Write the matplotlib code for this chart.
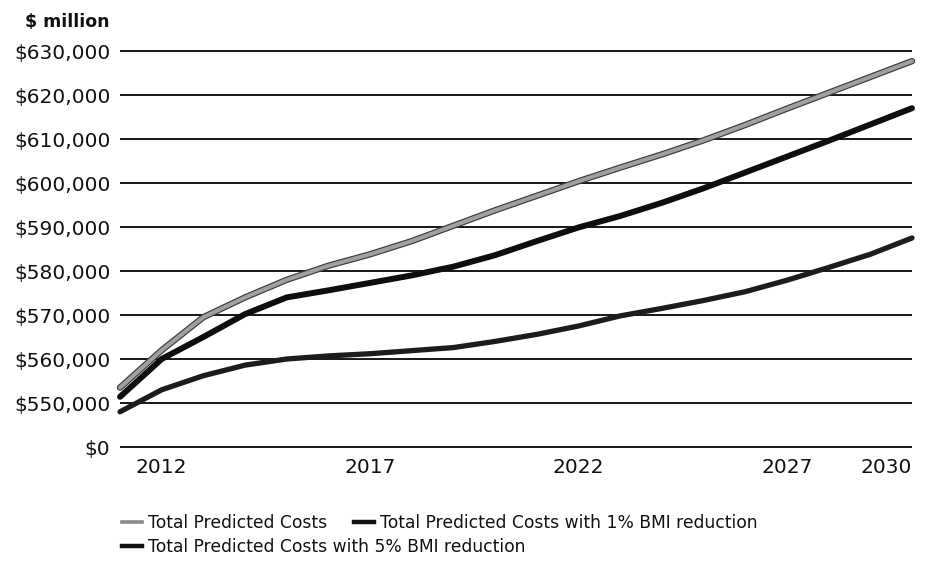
import matplotlib
matplotlib.use("Agg")
import matplotlib.pyplot as plt
from matplotlib.lines import Line2D
import matplotlib.patheffects as pe

# ---------------- data ----------------
years = list(range(2011, 2031))
total_costs = [553500, 562000, 569500, 574000, 578000, 581200, 583800, 586800,
               590300, 593800, 597100, 600400, 603500, 606500, 609700, 613200,
               616900, 620500, 624100, 627700]
bmi1_costs = [551400, 560000, 565000, 570200, 574000, 575600, 577300, 579000,
              581000, 583600, 586800, 589900, 592500, 595500, 598800, 602400,
              606000, 609600, 613300, 617000]
bmi5_costs = [548000, 553000, 556200, 558600, 560000, 560700, 561200, 561900,
              562600, 564000, 565600, 567500, 569800, 571500, 573300, 575300,
              577900, 580800, 583800, 587500]

series_names = ["Total Predicted Costs",
                "Total Predicted Costs with 1% BMI reduction",
                "Total Predicted Costs with 5% BMI reduction"]

# broken axis: the lowest gridline stands for $0
y_tick_values = [540000, 550000, 560000, 570000, 580000, 590000,
                 600000, 610000, 620000, 630000]
y_tick_labels = ["$0", "$550,000", "$560,000", "$570,000", "$580,000",
                 "$590,000", "$600,000", "$610,000", "$620,000", "$630,000"]
x_tick_values = [2012, 2017, 2022, 2027, 2030]
x_tick_labels = ["2012", "2017", "2022", "2027", "2030"]
unit_label = "$ million"

# ---------------- figure ----------------
W, H = 927, 561
fig = plt.figure(figsize=(W / 100, H / 100), dpi=100)
plt.rcParams["font.family"] = ["DejaVu Sans"]

ax_left, ax_right, ax_top, ax_bot = 120, 912, 35, 452
ax = fig.add_axes([ax_left / W, 1 - ax_bot / H,
                   (ax_right - ax_left) / W, (ax_bot - ax_top) / H])

px_per_10k = (447 - 51) / 9.0
ax.set_ylim(540000 - (ax_bot - 447) / px_per_10k * 10000,
            630000 + (51 - ax_top) / px_per_10k * 10000)
ax.set_xlim(2011, 2030)

for s in ax.spines.values():
    s.set_visible(False)

ax.set_yticks(y_tick_values)
ax.set_yticklabels(y_tick_labels)
ax.set_xticks(x_tick_values)
ax.set_xticklabels(x_tick_labels)
ax.tick_params(axis="both", length=0, labelsize=14.5, colors="#111111")
ax.tick_params(axis="y", pad=7)
ax.tick_params(axis="x", pad=4)
ax.get_xticklabels()[-1].set_horizontalalignment("right")

ax.set_axisbelow(True)
ax.grid(axis="y", color="#161616", linewidth=1.4)
ax.grid(axis="x", visible=False)

# lines
ax.plot(years, total_costs, color="#a0a0a0", linewidth=2.9, clip_on=False,
        solid_capstyle="round", solid_joinstyle="round", zorder=4,
        path_effects=[pe.Stroke(linewidth=4.6, foreground="#3c3c3c"), pe.Normal()])
ax.plot(years, bmi1_costs, color="#0e0e0e", linewidth=4.3, clip_on=False,
        solid_capstyle="round", solid_joinstyle="round", zorder=5)
ax.plot(years, bmi5_costs, color="#1c1c1c", linewidth=3.8, clip_on=False,
        solid_capstyle="round", solid_joinstyle="round", zorder=5)

# unit label
fig.text(25 / W, 1 - 22 / H, unit_label, fontsize=12.5, fontweight="bold",
         ha="left", va="center", color="#111111")

# legends
h_total = Line2D([], [], color="#8a8a8a", linewidth=2.6)
h_bmi1 = Line2D([], [], color="#111111", linewidth=3.2)
h_bmi5 = Line2D([], [], color="#111111", linewidth=3.2)

leg_kw = dict(frameon=False, fontsize=12.3, handlelength=1.15,
              handletextpad=0.35, borderpad=0, borderaxespad=0,
              labelcolor="#111111")
leg1 = fig.legend([h_total, h_bmi1], series_names[:2], ncol=2,
                  loc="center left", bbox_to_anchor=(122 / W, 1 - 523 / H),
                  columnspacing=1.6, **leg_kw)
leg2 = fig.legend([h_bmi5], series_names[2:], ncol=1,
                  loc="center left", bbox_to_anchor=(122 / W, 1 - 547 / H),
                  **leg_kw)

fig.savefig("out.png", dpi=100, facecolor="white")
